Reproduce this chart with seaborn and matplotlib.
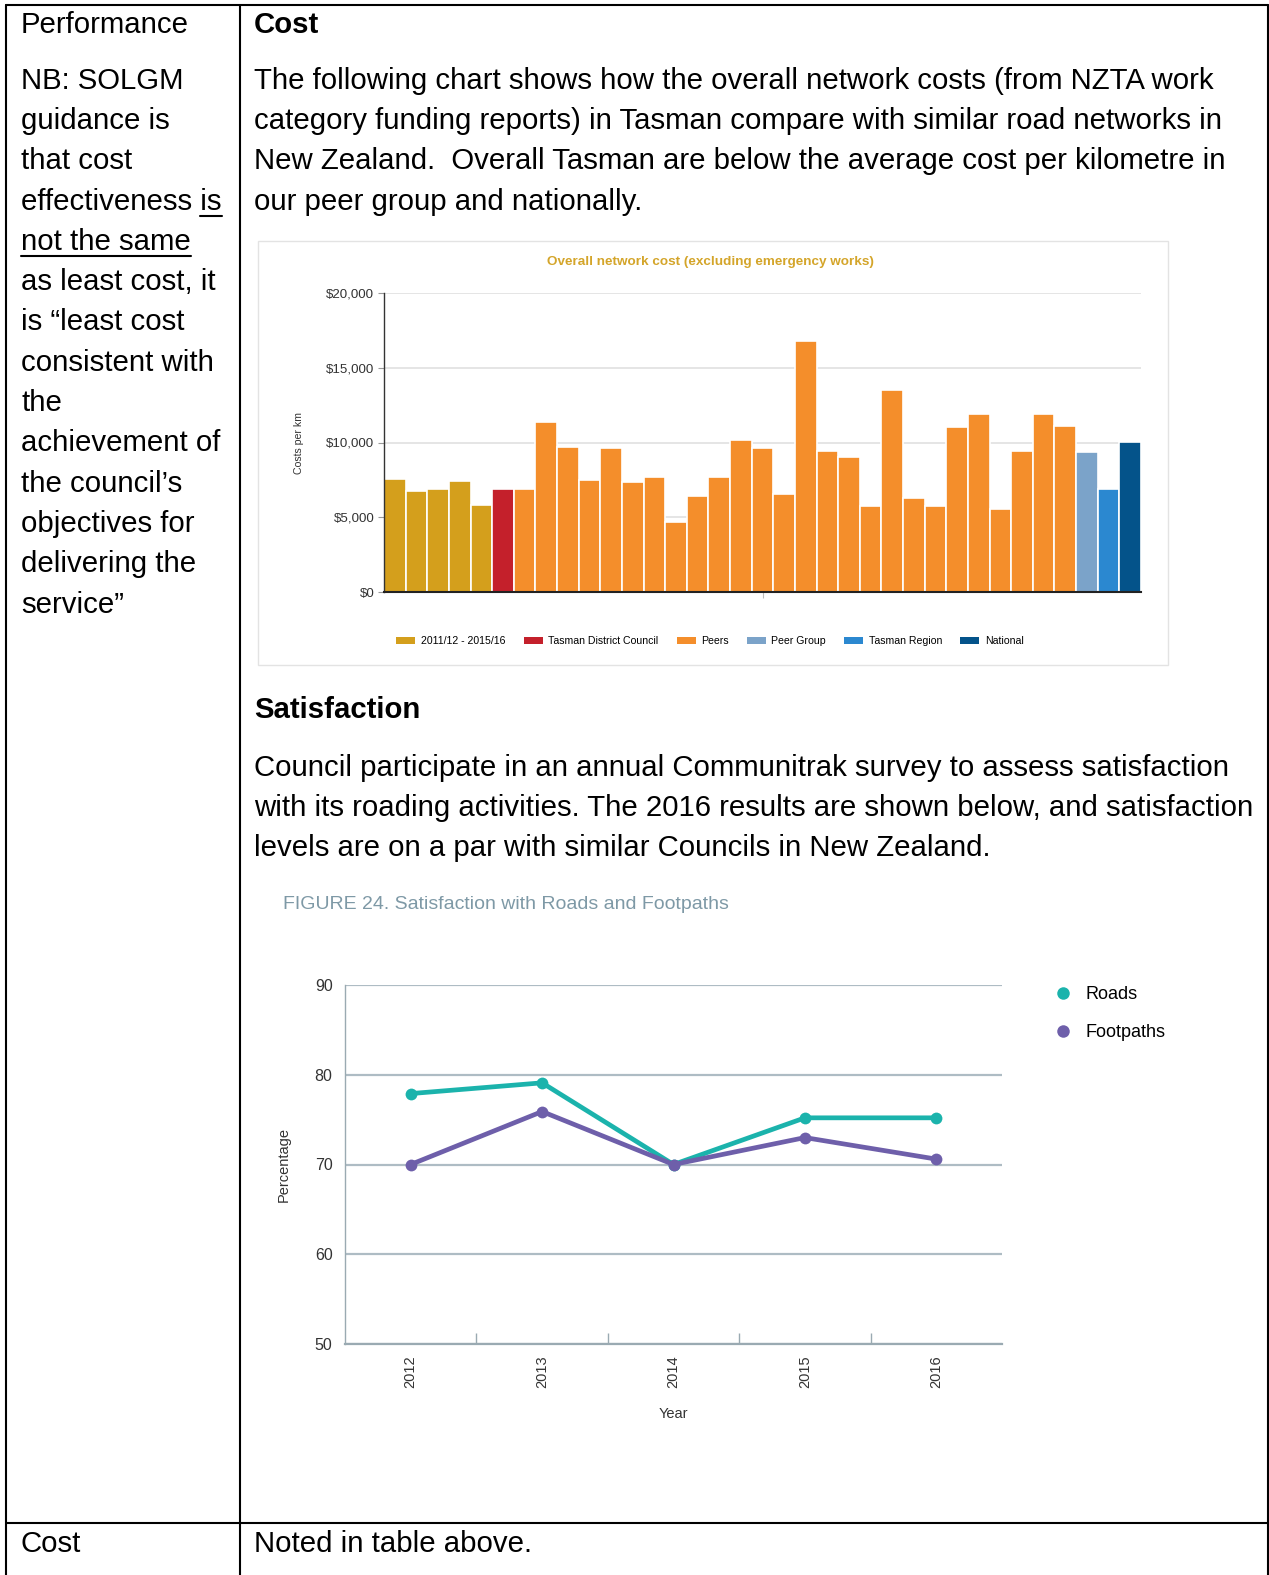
import pandas as pd
import seaborn as sns
import matplotlib.pyplot as plt
from matplotlib.lines import Line2D
from matplotlib.patches import Patch, Rectangle

#----------------------------------------------------
#dane - wykres kosztow
cost_groups = ['2011/12 - 2015/16'] * 5 + ['Tasman District Council'] + ['Peers'] * 26 + \
              ['Peer Group', 'Tasman Region', 'National']
cost_values = [7550, 6750, 6900, 7420, 5850,
               6900,
               6900, 11370, 9720, 7490, 9650, 7370, 7660, 4670, 6410, 7660,
               10150, 9650, 6530, 16780, 9450, 9030, 5740, 13500, 6280, 5720,
               11020, 11930, 5540, 9430, 11930, 11080,
               9340, 6900, 10030]
cost_ticks = [0, 5000, 10000, 15000, 20000]
cost_tick_labels = ['$0', '$5,000', '$10,000', '$15,000', '$20,000']
group_colors = {'2011/12 - 2015/16': '#D49F1C', 'Tasman District Council': '#C4202B',
                'Peers': '#F48E2B', 'Peer Group': '#7BA3C9',
                'Tasman Region': '#2B88D0', 'National': '#04538A'}

#dane - satysfakcja
years = ['2012', '2013', '2014', '2015', '2016']
roads = [77.9, 79.1, 70.0, 75.2, 75.2]
footpaths = [70.0, 75.9, 70.0, 73.0, 70.6]
line_colors = {'Roads': '#1BB3AC', 'Footpaths': '#6E5FAA'}

#teksty
left_lines = ['NB: SOLGM', 'guidance is', 'that cost', 'effectiveness is', 'not the same',
              'as least cost, it', 'is \u201cleast cost', 'consistent with', 'the',
              'achievement of', 'the council\u2019s', 'objectives for', 'delivering the',
              'service\u201d']
cost_para = ['The following chart shows how the overall network costs (from NZTA work',
             'category funding reports) in Tasman compare with similar road networks in',
             'New Zealand.  Overall Tasman are below the average cost per kilometre in',
             'our peer group and nationally.']
sat_para = ['Council participate in an annual Communitrak survey to assess satisfaction',
            'with its roading activities. The 2016 results are shown below, and satisfaction',
            'levels are on a par with similar Councils in New Zealand.']

#----------------------------------------------------
sns.set_theme(style="white")
plt.rcParams['font.family'] = ['Liberation Sans', 'DejaVu Sans']
plt.rcParams['text.color'] = 'black'

W, H = 1269, 1575
fig = plt.figure(figsize=(W / 100, H / 100), dpi=100)


def fx(px):
    return px / W


def fy(py):
    return 1 - py / H


BODY = 21.2
LINE = 40.3

#tabela - linie
tbl = dict(color='black', linewidth=1.5, transform=fig.transFigure)
fig.add_artist(Line2D([fx(6), fx(1267.5)], [fy(5), fy(5)], **tbl))
fig.add_artist(Line2D([fx(6), fx(6)], [fy(5), fy(1575)], **tbl))
fig.add_artist(Line2D([fx(1267.5), fx(1267.5)], [fy(5), fy(1575)], **tbl))
fig.add_artist(Line2D([fx(240), fx(240)], [fy(5), fy(1575)], **tbl))
fig.add_artist(Line2D([fx(6), fx(1267.5)], [fy(1523), fy(1523)], **tbl))

#lewa kolumna
fig.text(fx(21), fy(33), 'Performance', fontsize=BODY, va='baseline')
left_texts = []
for i, s in enumerate(left_lines):
    t = fig.text(fx(21), fy(88.7 + LINE * i), s, fontsize=BODY, va='baseline')
    left_texts.append(t)
fig.text(fx(21), fy(1552), 'Cost', fontsize=BODY, va='baseline')

#prawa kolumna
fig.text(fx(254), fy(33), 'Cost', fontsize=BODY, va='baseline', fontweight='bold')
for i, s in enumerate(cost_para):
    fig.text(fx(254), fy(88.7 + LINE * i), s, fontsize=BODY, va='baseline')
fig.text(fx(254), fy(718), 'Satisfaction', fontsize=BODY, va='baseline', fontweight='bold')
for i, s in enumerate(sat_para):
    fig.text(fx(254), fy(775.5 + LINE * i), s, fontsize=BODY, va='baseline')
fig.text(fx(254), fy(1552), 'Noted in table above.', fontsize=BODY, va='baseline')

#----------------------------------------------------
#wykres kosztow
fig.add_artist(Rectangle((fx(258), fy(665)), fx(1168) - fx(258), fy(241) - fy(665),
                         transform=fig.transFigure, fill=False, edgecolor='#E3E3E3', linewidth=1))
ax1 = fig.add_axes([fx(384), fy(592), fx(1141) - fx(384), fy(293) - fy(592)])
cost_df = pd.DataFrame({'idx': range(len(cost_values)), 'group': cost_groups, 'value': cost_values})
sns.barplot(data=cost_df, x='idx', y='value', hue='group', palette=group_colors, dodge=False,
            width=1.0, edgecolor='white', linewidth=1.2, saturation=1, legend=False, ax=ax1)
ax1.set_ylim(0, 20000)
ax1.set_xlim(-0.5, len(cost_values) - 0.5)
ax1.set_yticks(cost_ticks)
ax1.set_yticklabels(cost_tick_labels, fontsize=9.6, color='#333333')
ax1.set_xticks([len(cost_values) / 2 - 0.5])
ax1.set_xticklabels([''])
ax1.tick_params(axis='y', length=4, width=0.8, color='#999999', left=True, pad=3)
ax1.tick_params(axis='x', length=4, width=0.8, color='#BBBBBB', bottom=True)
ax1.set_axisbelow(True)
ax1.yaxis.grid(True, color='#E0E0E0', linewidth=1.2)
ax1.set_xlabel('')
ax1.set_ylabel('Costs per km', fontsize=7.6, color='#333333')
ax1.yaxis.set_label_coords((304 - 384) / 757, 0.5)
for side in ['top', 'right']:
    ax1.spines[side].set_visible(False)
ax1.spines['left'].set_color('#333333')
ax1.spines['left'].set_linewidth(1)
ax1.spines['bottom'].set_color('#222222')
ax1.spines['bottom'].set_linewidth(1.5)
fig.text(fx(710), fy(262), 'Overall network cost (excluding emergency works)', fontsize=9.7,
         fontweight='bold', color='#D4A52A', ha='center', va='center')
handles = [Patch(facecolor=c, edgecolor='none', label=g) for g, c in group_colors.items()]
fig.legend(handles=handles, loc='center', bbox_to_anchor=(fx(710), fy(641)), ncol=6, frameon=False,
           fontsize=7.6, handlelength=1.8, handleheight=0.6, handletextpad=0.5, columnspacing=1.75)

#----------------------------------------------------
#wykres satysfakcji
ax2 = fig.add_axes([fx(345), fy(1344), fx(1002) - fx(345), fy(985) - fy(1344)])
sat_df = pd.DataFrame({'pos': list(range(5)) * 2, 'value': roads + footpaths,
                       'series': ['Roads'] * 5 + ['Footpaths'] * 5})
sns.lineplot(data=sat_df, x='pos', y='value', hue='series', palette=line_colors, marker='o',
             markersize=8.5, markeredgewidth=0, linewidth=3.4, legend=False, ax=ax2)
ax2.set_xlim(-0.5, 4.5)
ax2.set_ylim(50, 90)
ax2.set_yticks([50, 60, 70, 80, 90])
ax2.set_yticklabels(['50', '60', '70', '80', '90'], fontsize=11.5, color='#333333')
ax2.set_xticks(range(5))
ax2.set_xticklabels(years, rotation=90, fontsize=10.5, color='#333333')
ax2.set_xticks([0.5, 1.5, 2.5, 3.5], minor=True)
ax2.tick_params(axis='x', which='major', length=0, pad=8)
ax2.tick_params(axis='x', which='minor', length=8, width=1, direction='in', color='#9AAAB2', bottom=True)
ax2.tick_params(axis='y', length=0, pad=9)
ax2.set_axisbelow(True)
ax2.yaxis.grid(True, color='#AEBCC4', linewidth=1.6)
for side in ['top', 'right']:
    ax2.spines[side].set_visible(False)
ax2.spines['left'].set_color('#9AAAB2')
ax2.spines['left'].set_linewidth(1)
ax2.spines['bottom'].set_color('#9AAAB2')
ax2.spines['bottom'].set_linewidth(1.6)
ax2.set_xlabel('Year', fontsize=10.5, color='#333333', labelpad=14)
ax2.set_ylabel('Percentage', fontsize=10.5, color='#333333')
ax2.yaxis.set_label_coords((291 - 345) / 657, 0.5)
fig.text(fx(283), fy(904), 'FIGURE 24. Satisfaction with Roads and Footpaths', fontsize=14,
         color='#7E99A6', ha='left', va='center')
leg_handles = [Line2D([], [], linestyle='none', marker='o', markersize=9, markeredgewidth=0,
                      color=line_colors[k], label=k) for k in ['Roads', 'Footpaths']]
fig.legend(handles=leg_handles, loc='upper left', bbox_to_anchor=(fx(1040), fy(970)), frameon=False,
           fontsize=13, handlelength=0.8, handletextpad=0.8, labelspacing=1.15)

#----------------------------------------------------
#podkreslenia w lewej kolumnie
fig.canvas.draw()
renderer = fig.canvas.get_renderer()


def underline(text_obj, part, depth=6):
    bb = text_obj.get_window_extent(renderer)
    tmp = fig.text(0, 0, part, fontsize=BODY)
    w = tmp.get_window_extent(renderer).width
    tmp.remove()
    y = text_obj.get_position()[1] - depth / H
    fig.add_artist(Line2D([(bb.x1 - w) / W, bb.x1 / W], [y, y], color='black', linewidth=1.5,
                          transform=fig.transFigure))


underline(left_texts[3], 'is')
underline(left_texts[4], 'not the same')

plt.savefig('out.png', dpi=100)
plt.close()
